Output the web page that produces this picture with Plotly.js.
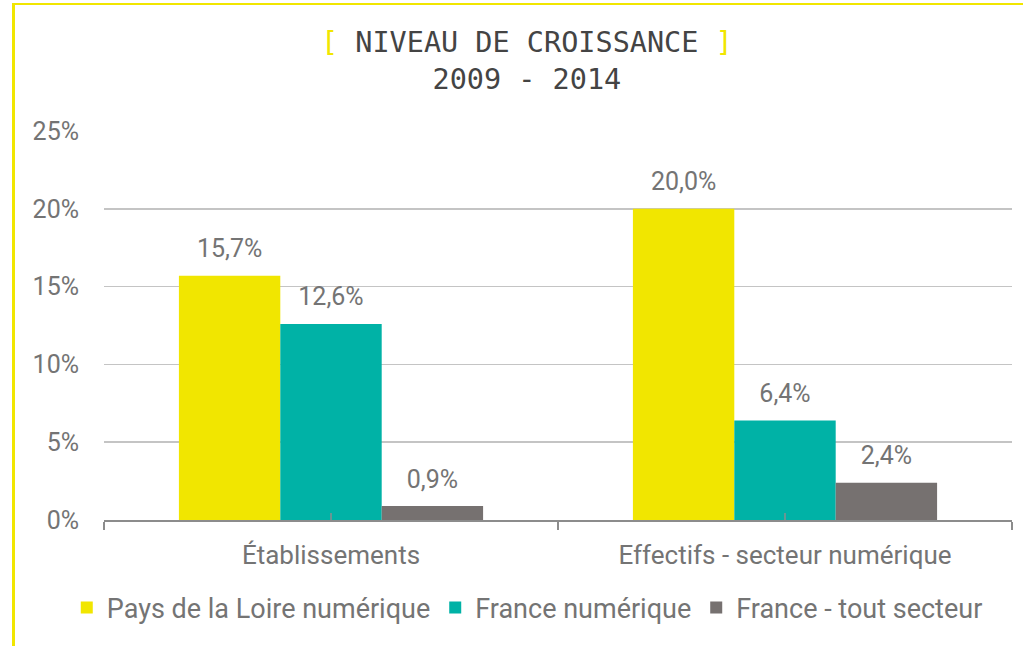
<!DOCTYPE html>
<html>
<head>
<meta charset="utf-8">
<script src="https://cdn.plot.ly/plotly-3.0.1.min.js"></script>
<style>
  html, body { margin: 0; padding: 0; background: #fff; }
  #wrap { position: relative; width: 1023px; height: 646px; overflow: hidden; }
  #chart { position: absolute; left: 0; top: 0; width: 1023px; height: 646px; }
  #frame { position: absolute; left: 12px; top: 3px; width: 1030px; height: 700px;
           border-left: 3px solid #f1e600; border-top: 2px solid #f1e600; pointer-events: none; }
</style>
</head>
<body>
<div id="wrap">
  <div id="chart"></div>
  <div id="frame"></div>
</div>
<script>
const categories = ["Établissements", "Effectifs - secteur numérique"];
const seriesNames = ["Pays de la Loire numérique", "France numérique", "France - tout secteur"];
const paysDeLaLoire = [15.7, 20.0];
const franceNumerique = [12.6, 6.4];
const franceTout = [0.9, 2.4];
const yTickVals = [0, 5, 10, 15, 20, 25];
const yTickText = ["0%", "5%", "10%", "15%", "20%", "25%"];

const colors = ["#f1e600", "#00b2a6", "#767170"];
const seriesValues = [paysDeLaLoire, franceNumerique, franceTout];
const textColor = "#747474";

const traces = [];
seriesValues.forEach((vals, i) => {
  traces.push({
    type: "bar",
    name: seriesNames[i],
    x: categories,
    y: vals,
    marker: { color: colors[i], line: { width: 0 } },
    offsetgroup: String(i),
    hoverinfo: "skip"
  });
});
seriesValues.forEach((vals, i) => {
  traces.push({
    type: "scatter",
    mode: "markers+text",
    x: categories,
    y: vals,
    offsetgroup: String(i),
    marker: { size: 18, opacity: 0, color: colors[i] },
    text: vals.map(v => v.toFixed(1).replace(".", ",") + "%"),
    textposition: "top center",
    textfont: { family: "Roboto", size: 25, color: textColor },
    showlegend: false,
    cliponaxis: false,
    hoverinfo: "skip"
  });
});

const shapes = categories.map(c => ({
  type: "line", xref: "x", yref: "y",
  x0: c, x1: c, ysizemode: "pixel", yanchor: 0, y0: -7, y1: 7,
  line: { color: "#8c8c8c", width: 1.5 }
}));

const layout = {
  width: 1023, height: 646,
  margin: { l: 104, r: 11, t: 131, b: 126, autoexpand: false },
  paper_bgcolor: "#ffffff",
  plot_bgcolor: "#ffffff",
  separators: ", ",
  barmode: "group",
  bargap: 0.33,
  bargroupgap: 0,
  scattermode: "group",
  scattergap: 0.33,
  font: { family: "Roboto", color: textColor },
  title: {
    text: '<span style="color:#f1e600">[</span> NIVEAU DE CROISSANCE <span style="color:#f1e600">]</span><br>2009 - 2014',
    font: { family: "DejaVu Sans Mono", size: 28.5, color: "#444444" },
    x: 0.515, xref: "container", xanchor: "center",
    y: 0.919, yref: "container", yanchor: "top"
  },
  xaxis: {
    type: "category",
    showgrid: false,
    showline: true,
    linecolor: "#8c8c8c",
    linewidth: 1.5,
    ticks: "outside",
    tickson: "boundaries",
    ticklen: 8,
    tickwidth: 1.5,
    tickcolor: "#8c8c8c",
    tickfont: { family: "Roboto", size: 26, color: textColor },
    ticklabelstandoff: 11,
    zeroline: false,
    automargin: false
  },
  yaxis: {
    range: [0, 25],
    tickvals: yTickVals,
    ticktext: yTickText,
    showgrid: true,
    gridcolor: "#c4c4c4",
    gridwidth: 1.5,
    zeroline: false,
    showline: false,
    ticks: "",
    tickfont: { family: "Roboto", size: 25, color: textColor },
    ticklabelstandoff: 24,
    automargin: false
  },
  legend: {
    orientation: "h",
    xref: "paper", yref: "paper",
    x: -0.041, xanchor: "left",
    y: -0.226, yanchor: "middle",
    font: { family: "Roboto", size: 27, color: textColor },
    itemwidth: 30,
    traceorder: "normal"
  },
  shapes: shapes,
  showlegend: true
};

Plotly.newPlot("chart", traces, layout, { displayModeBar: false, staticPlot: true });
</script>
</body>
</html>
